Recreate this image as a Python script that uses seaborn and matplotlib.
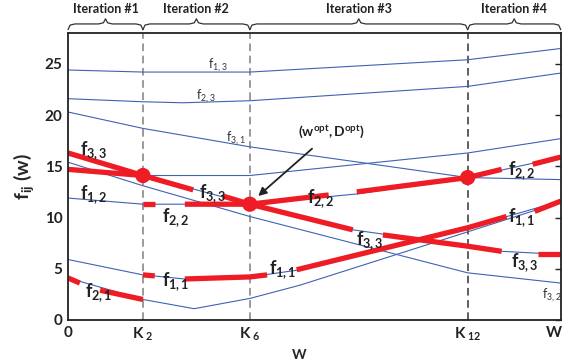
import numpy as np
import matplotlib
matplotlib.use('Agg')
import matplotlib.pyplot as plt
import matplotlib.transforms as mtransforms
import seaborn as sns

# ---- data (x: 0..W=100) ----
K2, K6, K12, W = 15.2, 36.9, 81.1, 100.0
tick_pos = [0, K2, 25.8, K6, K12, W]
tick_lab = ['0', r'$\mathbf{K_{\ 2}}$', '', r'$\mathbf{K_{\ 6}}$', r'$\mathbf{K_{\ 12}}$', 'W']

# thin blue curves f_ij(w)
x5 = [0, K2, K6, K12, W]
f13 = [24.4, 24.2, 24.2, 25.4, 26.5]
x23 = [0, K2, 23.3, K6, K12, W]
f23 = [21.6, 21.3, 21.2, 21.4, 22.8, 24.1]
f31 = [20.3, 18.7, 16.9, 13.9, 13.7]
f12 = [14.7, 14.1, 14.1, 16.3, 17.7]
x22 = [0, K2, K6, 58.6, K12, W]
f22 = [11.9, 11.3, 11.3, 12.3, 13.9, 15.9]
f32 = [15.4, 13.1, 10.1, 4.6, 3.6]
x11 = [0, K2, 23.7, K6, 47.1, K12, W]
f11 = [5.9, 4.4, 4.0, 4.2, 4.9, 9.0, 11.6]
x21 = [0, K2, 25.6, K6, 47.1, K12, W]
f21 = [4.1, 2.0, 1.1, 2.1, 3.4, 8.6, 11.5]
x33 = [0, K2, K6, 57.8, K12, 88.0, W]
f33 = [16.3, 14.1, 11.3, 8.8, 7.2, 6.7, 6.4]

# thick red pieces (gaps where the labels sit)
red_segments = [
    ([0, 2.4], [4.1, 3.6]),
    ([6.5, K2], [2.9, 2.0]),
    ([K2, 17.6], [4.4, 4.3]),
    ([23.7, K6, 40.4], [4.0, 4.2, 4.4]),
    ([46.4, K12, 89.0], [4.9, 9.0, 10.1]),
    ([94.7, W], [10.6, 11.6]),
    ([0, K2, 25.4], [16.3, 14.1, 12.7]),
    ([31.4, K6, 57.8], [12.1, 11.3, 8.8]),
    ([63.9, K12, 88.0], [8.3, 7.2, 6.7]),
    ([95.3, W], [6.4, 6.4]),
    ([0, K2], [14.7, 14.1]),
    ([K2, 17.6], [11.3, 11.3]),
    ([23.7, K6, 52.9], [11.3, 11.3, 12.2]),
    ([58.6, K12, 88.0], [12.5, 13.9, 14.7]),
    ([94.3, W], [15.2, 15.9]),
]
dot_x = [K2, K6, K12]
dot_y = [14.1, 11.3, 13.9]

# labels of the red pieces
red_lab = ['3,3', '1,2', '2,1', '2,2', '1,1', '3,3', '2,2', '1,1', '3,3', '2,2', '1,1', '3,3']
red_lab_x = [2.5, 2.5, 3.5, 19.0, 19.0, 26.5, 48.5, 40.8, 58.5, 89.3, 89.3, 90.0]
red_lab_y = [16.5, 12.2, 2.7, 10.0, 3.7, 12.3, 11.8, 4.9, 7.7, 14.6, 10.0, 5.6]
thin_lab = ['1,3', '2,3', '3,1', '3,2']
thin_lab_x = [28.5, 26.0, 32.0, 96.2]
thin_lab_y = [24.9, 21.8, 17.7, 2.4]

iterations = ['Iteration #1', 'Iteration #2', 'Iteration #3', 'Iteration #4']
bounds = [0, K2, K6, K12, W]

# ---- style ----
sns.set_style('white')
plt.rcParams['font.family'] = ['Lato', 'DejaVu Sans']
plt.rcParams['mathtext.fontset'] = 'custom'
plt.rcParams['mathtext.rm'] = 'Lato'
plt.rcParams['mathtext.bf'] = 'Lato:bold'
plt.rcParams['mathtext.it'] = 'Lato'
plt.rcParams['mathtext.default'] = 'regular'

blue = '#3f62b5'
red = '#ee1c24'

fig = plt.figure(figsize=(5.67, 3.64), dpi=100)
ax = fig.add_axes([0.12, 0.121, 0.869, 0.788])

for xs, ys in [(x5, f13), (x23, f23), (x5, f31), (x5, f12), (x22, f22),
               (x5, f32), (x11, f11), (x21, f21), (x33, f33)]:
    sns.lineplot(x=xs, y=ys, ax=ax, color=blue, lw=0.8, sort=False, estimator=None)

for k, c in zip([K2, K6, K12], ['#7f7f7f', '#7f7f7f', '#333333']):
    ax.axvline(k, color=c, ls=(0, (5, 3)), lw=1.1, zorder=1)

for xs, ys in red_segments:
    sns.lineplot(x=xs, y=ys, ax=ax, color=red, lw=3.8, sort=False,
                 estimator=None, solid_capstyle='butt')
sns.scatterplot(x=dot_x, y=dot_y, ax=ax, color=red, s=120, edgecolor='none', zorder=5)

for t, xx, yy in zip(red_lab, red_lab_x, red_lab_y):
    ax.text(xx, yy, r'$\mathbf{f_{%s}}$' % t, fontsize=13, color='#222222',
            ha='left', va='center')
for t, xx, yy in zip(thin_lab, thin_lab_x, thin_lab_y):
    ax.text(xx, yy, r'f$_{%s}$' % t, fontsize=9, color='#333333',
            ha='left', va='center')

ax.annotate(r'$\mathbf{(w^{opt},D^{opt})}$', xy=(38.6, 12.1), xytext=(53.5, 18.4),
            fontsize=10, ha='center', va='center', color='#222222',
            arrowprops=dict(arrowstyle='-|>', color='#222222', lw=1.3,
                            mutation_scale=12, shrinkA=6, shrinkB=0))

ax.set_xlim(0, W)
ax.set_ylim(0, 28)
ax.set_xticks(tick_pos)
ax.set_xticklabels(tick_lab)
ax.set_yticks([0, 5, 10, 15, 20, 25])
ax.tick_params(axis='both', direction='in', length=4, width=1, labelsize=11,
               colors='#222222', pad=4)
ax.tick_params(axis='y', right=True)
for lab in ax.get_xticklabels() + ax.get_yticklabels():
    lab.set_fontweight('bold')
# keep the last "W" label inside the figure
last = ax.get_xticklabels()[-1]
last.set_transform(last.get_transform() +
                   mtransforms.ScaledTranslation(-5 / 72, 0, fig.dpi_scale_trans))
for sp in ax.spines.values():
    sp.set_linewidth(1.3)
    sp.set_color('#222222')
ax.set_xlabel('W', fontsize=10, fontweight='bold', labelpad=0)
ax.xaxis.set_label_coords(0.47, -0.1)
ax.set_ylabel(r'$\mathbf{f_{ij}}$ (w)', fontsize=14, fontweight='bold', labelpad=6)

# iteration braces above the plot
trans = mtransforms.blended_transform_factory(ax.transData, ax.transAxes)
for name, a, b in zip(iterations, bounds[:-1], bounds[1:]):
    m = (a + b) / 2
    d = 1.4
    bx = [a, a + d * 0.3, a + d, m - d, m - d * 0.3, m, m + d * 0.3, m + d, b - d, b - d * 0.3, b]
    by = [1.012, 1.028, 1.032, 1.032, 1.036, 1.05, 1.036, 1.032, 1.032, 1.028, 1.012]
    ax.plot(bx, by, color='#333333', lw=0.9, transform=trans, clip_on=False)
    ax.text(m, 1.085, name, transform=trans, ha='center', va='center',
            fontsize=9, fontweight='bold', color='#222222')

fig.savefig('out.png', dpi=100)
